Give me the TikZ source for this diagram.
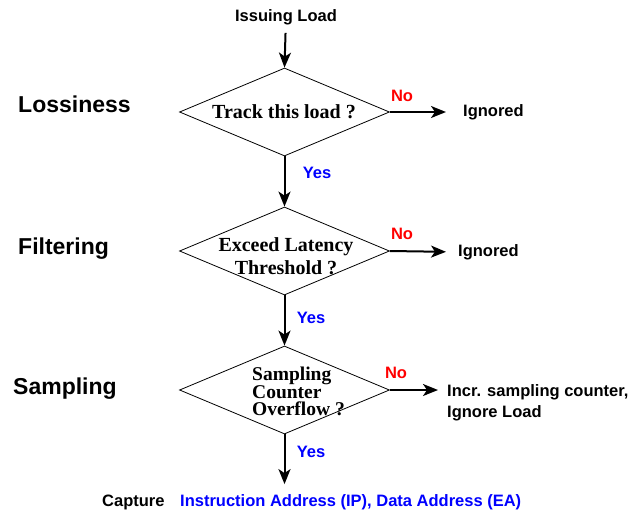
\documentclass[tikz,border=0pt]{standalone}
\usepackage{fontspec}
\setmainfont{Liberation Serif}
\setsansfont{Liberation Sans}
\usetikzlibrary{arrows.meta, positioning, shapes.geometric}
\definecolor{cred}{HTML}{FF0000}
\definecolor{cblue}{HTML}{0000FF}
\tikzset{
  every picture/.style={font=\sffamily\bfseries},
  decision/.style={draw, diamond, line width=0.8pt, minimum width=210pt, minimum height=88pt, inner sep=0pt},
  question/.style={font=\rmfamily\bfseries\fontsize{20}{23}\selectfont, align=center, inner sep=0pt},
  stage/.style={font=\sffamily\bfseries\fontsize{23}{27}\selectfont, anchor=west, inner sep=0pt},
  txt/.style={font=\sffamily\bfseries\fontsize{16.5}{21}\selectfont, inner sep=0pt},
  outcome/.style={txt, anchor=west, align=left},
  yes/.style={txt, text=cblue},
  no/.style={txt, text=cred},
  arrow/.style={-{Stealth[length=15pt, width=12pt, inset=4pt]}, line width=2pt},
}

\begin{document}
\begin{tikzpicture}[x=1pt, y=-1pt]
  \useasboundingbox (0,0) rectangle (641,512);

  % stage names on the left
  \node[stage] (loss) at (18,104) {Lossiness};
  \node[stage] (filt) at (18,249) {Filtering};
  \node[stage] (samp) at (13,389) {Sampling};

  % the three decisions
  \node[txt] (load) at (286,17) {Issuing Load};
  \node[decision] (d1) at (284.5,112) {};
  \node[decision] (d2) at (284.5,251) {};
  \node[decision] (d3) at (284.5,390) {};
  \node[question] (q1) at (284,112) {Track this load ?};
  \node[question] (q2) at (286,256) {Exceed Latency\\ Threshold ?};
  \node[question, align=left, anchor=west, font=\rmfamily\bfseries\fontsize{19.5}{17}\selectfont] (q3) at (252,391)
    {Sampling\\ Counter\\ Overflow ?};

  % outcomes
  \node[outcome] (ign1) at (463,112) {Ignored};
  \node[outcome] (ign2) at (458,252) {Ignored};
  \node[outcome] (incr) at (447,402.5) {Incr. sampling counter,\\ Ignore Load};
  \node[txt, anchor=west] (capt) at (102,502) {Capture};
  \node[txt, anchor=west, text=cblue] (addr) at (180,502) {Instruction Address (IP), Data Address (EA)};

  % yes / no labels
  \node[no] (no1) at (402,96) {No};
  \node[no] (no2) at (402,234) {No};
  \node[no] (no3) at (396,373) {No};
  \node[yes] (yes1) at (317,173) {Yes};
  \node[yes] (yes2) at (311,318) {Yes};
  \node[yes] (yes3) at (311,452) {Yes};

  % flow
  \draw[arrow, shorten <=8pt] (load) -- (d1.north);
  \draw[arrow] (d1.south) -- (d2.north);
  \draw[arrow] (d2.south) -- (d3.north);
  \draw[arrow, shorten >=10pt] (d3.south) -- (d3.south |- addr.north);
  \draw[arrow, shorten >=17pt] (d1.east) -- (ign1.west);
  \draw[arrow, shorten >=12pt] (d2.east) -- (ign2.west);
  \draw[arrow, shorten >=9pt] (d3.east) -- (d3.east -| incr.west);
\end{tikzpicture}
\end{document}
